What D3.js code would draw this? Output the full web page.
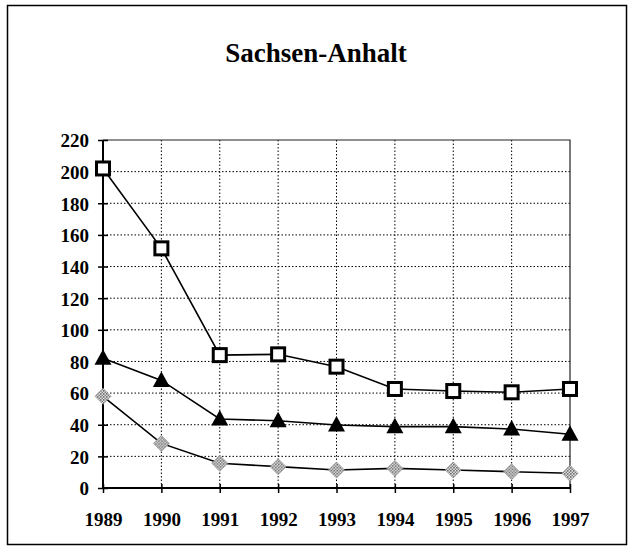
<!DOCTYPE html>
<html>
<head>
<meta charset="utf-8">
<script src="https://cdn.jsdelivr.net/npm/d3@7"></script>
<style>
  body { margin: 0; background: #fff; }
  text { font-family: "Liberation Serif", "Times New Roman", serif; font-weight: bold; fill: #000; }
</style>
</head>
<body>
<svg id="chart"></svg>
<script>
const width = 629
const height = 547

// data
const years = [1989, 1990, 1991, 1992, 1993, 1994, 1995, 1996, 1997]
const squareSeries = [202, 151.5, 84, 84.5, 76.7, 62.6, 61.3, 60.5, 62.6]
const triangleSeries = [82, 68, 43.6, 42.5, 39.8, 38.8, 38.8, 37.3, 34]
const diamondSeries = [58, 28.2, 15.6, 13.5, 11.4, 12.4, 11.4, 10.3, 9.3]
const yTicks = [0, 20, 40, 60, 80, 100, 120, 140, 160, 180, 200, 220]
const title = 'Sachsen-Anhalt'

const plot = {left: 103, right: 570, top: 140, bottom: 488}

const svg = d3.select('#chart').attr('width', width).attr('height', height)

// dotted fill for the diamond markers
const defs = svg.append('defs')
const pat = defs.append('pattern')
  .attr('id', 'dots')
  .attr('width', 3).attr('height', 3)
  .attr('patternUnits', 'userSpaceOnUse')
pat.append('rect').attr('width', 3).attr('height', 3).attr('fill', '#fff')
pat.append('rect').attr('width', 1.5).attr('height', 1.5).attr('fill', '#444')
pat.append('rect').attr('x', 1.5).attr('y', 1.5).attr('width', 1.5).attr('height', 1.5).attr('fill', '#666')

// outer frame
svg.append('rect')
  .attr('x', 7.5).attr('y', 5.5)
  .attr('width', 619).attr('height', 539)
  .attr('fill', 'none').attr('stroke', '#000').attr('stroke-width', 1.5)

svg.append('text')
  .attr('x', 316).attr('y', 62)
  .attr('text-anchor', 'middle')
  .attr('font-size', 27)
  .text(title)

const x = d3.scalePoint().domain(years).range([plot.left, plot.right])
const y = d3.scaleLinear().domain([0, 220]).range([plot.bottom, plot.top])

// gridlines
const grid = svg.append('g')
grid.selectAll('line.h').data(yTicks.filter(d => d > 0 && d < 220)).enter().append('line')
  .attr('x1', plot.left).attr('x2', plot.right)
  .attr('y1', d => y(d)).attr('y2', d => y(d))
  .attr('stroke', '#000').attr('stroke-width', 1).attr('stroke-dasharray', '1.5,2')
grid.selectAll('line.v').data(years.slice(1, -1)).enter().append('line')
  .attr('x1', d => x(d)).attr('x2', d => x(d))
  .attr('y1', plot.top).attr('y2', plot.bottom)
  .attr('stroke', '#000').attr('stroke-width', 1).attr('stroke-dasharray', '1.5,2')

// top and right border of plot
svg.append('path')
  .attr('d', `M${plot.left},${plot.top}H${plot.right}V${plot.bottom}`)
  .attr('fill', 'none').attr('stroke', '#222').attr('stroke-width', 1.2)

// y axis
const yAxis = svg.append('g').attr('transform', `translate(${plot.left},0)`)
  .call(d3.axisLeft(y).tickValues(yTicks).tickSize(5))
yAxis.select('.domain').attr('d', `M0,${plot.top}V${plot.bottom}`).attr('stroke-width', 2)
yAxis.selectAll('.tick line').attr('x2', 5).attr('x1', -5).attr('stroke-width', 1.5)
yAxis.selectAll('.tick text').attr('font-size', 19).attr('font-family', null).attr('dy', '0.36em').attr('x', -14)

// x axis
const xAxis = svg.append('g').attr('transform', `translate(0,${plot.bottom})`)
  .call(d3.axisBottom(x).tickSize(5).tickPadding(20).tickFormat(d3.format('d')))
xAxis.select('.domain').attr('d', `M${plot.left},0H${plot.right}`).attr('stroke-width', 2)
xAxis.selectAll('.tick line').attr('y1', -4).attr('y2', 5).attr('stroke-width', 1.5)
xAxis.selectAll('.tick text').attr('font-size', 19).attr('font-family', null)

// lines
const line = d3.line().x((d, i) => x(years[i])).y(d => y(d))
const seriesList = [diamondSeries, triangleSeries, squareSeries]
svg.append('g').selectAll('path').data(seriesList).enter().append('path')
  .attr('d', line)
  .attr('fill', 'none').attr('stroke', '#000').attr('stroke-width', 1.6)

// markers
svg.append('g').selectAll('path').data(diamondSeries).enter().append('path')
  .attr('transform', (d, i) => `translate(${x(years[i])},${y(d)})`)
  .attr('d', 'M0,-8L8,0L0,8L-8,0Z')
  .attr('fill', 'url(#dots)').attr('stroke', '#999').attr('stroke-width', 0.8)

svg.append('g').selectAll('path').data(triangleSeries).enter().append('path')
  .attr('transform', (d, i) => `translate(${x(years[i])},${y(d)})`)
  .attr('d', 'M0,-9L8.5,6.5L-8.5,6.5Z')
  .attr('fill', '#000')

svg.append('g').selectAll('rect').data(squareSeries).enter().append('rect')
  .attr('x', (d, i) => x(years[i]) - 6.5)
  .attr('y', d => y(d) - 6.5)
  .attr('width', 13).attr('height', 13)
  .attr('fill', '#fff').attr('stroke', '#000').attr('stroke-width', 3)
</script>
</body>
</html>
